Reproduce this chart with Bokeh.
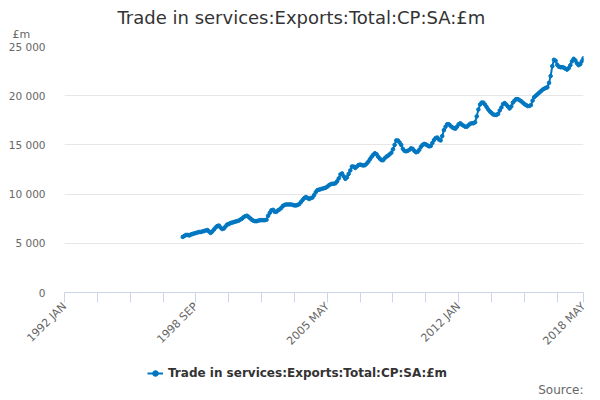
import math
from bokeh.plotting import figure
from bokeh.layouts import column
from bokeh.models import (Range1d, FixedTicker, Label, Legend, LegendItem, Title)
from bokeh.embed import file_html
from bokeh.resources import INLINE

# ---------------- data ----------------
first_data_month = 72          # 1998 JAN, months counted from 1992 JAN
exports = [
    5650, 5750, 5850, 5850, 5800, 5900, 5950, 6000, 6050, 6100, 6150, 6150,
    6200, 6250, 6300, 6350, 6200, 6050, 6200, 6400, 6600, 6750, 6800, 6600,
    6450, 6500, 6700, 6900, 6950, 7050, 7100, 7150, 7200, 7250, 7300, 7400,
    7500, 7650, 7750, 7800, 7700, 7550, 7400, 7300, 7250, 7250, 7300, 7350,
    7350, 7350, 7350, 7400, 7800, 8100, 8350, 8400, 8200, 8200, 8350, 8450,
    8600, 8800, 8900, 8950, 8950, 8950, 8950, 8900, 8850, 8850, 8900, 9000,
    9200, 9400, 9600, 9700, 9600, 9500, 9600, 9650, 9900, 10200, 10400, 10450,
    10500, 10550, 10600, 10650, 10750, 10900, 11000, 11050, 11050, 11100, 11300, 11600,
    12000, 12100, 11800, 11550, 11700, 12050, 12400, 12800, 12800, 12650, 12800, 12950,
    13000, 12950, 12900, 12950, 13100, 13300, 13550, 13800, 14000, 14150, 14050, 13800,
    13600, 13450, 13450, 13650, 13800, 13900, 14050, 14200, 14550, 15000, 15450, 15450,
    15250, 15000, 14600, 14400, 14350, 14400, 14500, 14650, 14600, 14400, 14250, 14300,
    14500, 14800, 15000, 15100, 15050, 14950, 14850, 14900, 15200, 15500, 15700, 15750,
    15550, 15450, 15900, 16500, 16850, 17100, 17100, 16950, 16800, 16700, 16650, 16850,
    17100, 17200, 17050, 16950, 16850, 16850, 17000, 17150, 17200, 17200, 17300, 17900,
    18600, 19100, 19300, 19300, 19100, 18850, 18600, 18400, 18250, 18100, 18050, 18050,
    18150, 18500, 18800, 19150, 19250, 19100, 18900, 18700, 18900, 19300, 19500, 19650,
    19650, 19550, 19450, 19300, 19150, 19050, 18950, 18950, 19050, 19500, 19850, 20000,
    20150, 20300, 20450, 20600, 20700, 20800, 20850, 21300, 22000, 23000, 23650, 23550,
    23150, 22950, 22900, 22900, 22850, 22750, 22650, 22800, 23100, 23500, 23750, 23600,
    23300, 23100, 23200, 23500, 23800,
]
months = list(range(first_data_month, first_data_month + len(exports)))
last_month = 316               # 2018 MAY

x_ticks = list(range(0, 301, 20)) + [last_month]
x_tick_labels = {0: "1992 JAN", 80: "1998 SEP", 160: "2005 MAY",
                 240: "2012 JAN", 316: "2018 MAY"}
y_ticks = [0, 5000, 10000, 15000, 20000, 25000]
y_tick_labels = ["0", "5 000", "10 000", "15 000", "20 000", "25 000"]

title_text = "Trade in services:Exports:Total:CP:SA:£m"
series_name = "Trade in services:Exports:Total:CP:SA:£m"
unit_text = "£m"
source_text = "Source:"

# ---------------- layout constants ----------------
W = 596
MAIN_H = 360
BOT_H = 36
FL, FT = 64, 46
FR = W - 583
FB = MAIN_H - 292
FONT = "DejaVu Sans"
BLUE = "#0077c0"

# ---------------- main chart ----------------
p = figure(width=W, height=MAIN_H, output_backend="svg", toolbar_location=None,
           x_range=Range1d(0, last_month), y_range=Range1d(0, 25000), tools="",
           min_border_left=FL, min_border_right=FR, min_border_top=FT,
           min_border_bottom=FB, title=None)
p.outline_line_color = None

p.line(months, exports, line_color=BLUE, line_width=2)
p.scatter(months, exports, size=3.6, fill_color=BLUE, line_color=BLUE)

p.yaxis.ticker = FixedTicker(ticks=y_ticks)
p.yaxis.major_label_overrides = {t: s for t, s in zip(y_ticks, y_tick_labels)}
p.yaxis.axis_line_color = None
p.yaxis.major_tick_line_color = None
p.yaxis.minor_tick_line_color = None
p.yaxis.major_label_standoff = 13
p.yaxis.major_label_text_font = FONT
p.yaxis.major_label_text_font_size = "10.5px"
p.yaxis.major_label_text_color = "#666666"
p.ygrid.ticker = FixedTicker(ticks=y_ticks)
p.ygrid.grid_line_color = "#e6e6e6"

p.xaxis.ticker = FixedTicker(ticks=x_ticks)
p.xaxis.major_label_overrides = {t: x_tick_labels.get(t, "") for t in x_ticks}
p.xaxis.axis_line_color = "#ccd6eb"
p.xaxis.major_tick_line_color = "#ccd6eb"
p.xaxis.major_tick_out = 10
p.xaxis.major_tick_in = 0
p.xaxis.minor_tick_line_color = None
p.xaxis.major_label_orientation = math.pi / 4
p.xaxis.major_label_standoff = 2
p.xaxis.major_label_text_font = FONT
p.xaxis.major_label_text_font_size = "11px"
p.xaxis.major_label_text_color = "#666666"
p.xgrid.grid_line_color = None

# header texts as title panels (first added sits nearest the plot)
p.add_layout(Title(text=unit_text, align="left", offset=12 - FL, text_font=FONT,
                   text_font_size="11px", text_color="#666666",
                   text_font_style="normal", standoff=12), "above")
p.add_layout(Title(text=title_text, align="left", offset=117 - FL, text_font=FONT,
                   text_font_size="18px", text_color="#333333",
                   text_font_style="normal", standoff=-16), "above")

# ---------------- footer: legend + source ----------------
bot = figure(width=W, height=BOT_H, output_backend="svg", toolbar_location=None,
             x_range=Range1d(0, 1), y_range=Range1d(0, 1), tools="",
             min_border=0, min_border_left=0, min_border_right=0,
             min_border_top=0, min_border_bottom=0)
bot.axis.visible = False
bot.grid.visible = False
bot.outline_line_color = None

# legend proxies: the same series, lying outside this strip's ranges (not drawn)
leg_line = bot.line(months, exports, line_color=BLUE, line_width=2)
leg_dot = bot.scatter(months, exports, size=5, fill_color=BLUE, line_color=BLUE)
legend = Legend(items=[LegendItem(label=series_name, renderers=[leg_line, leg_dot])],
                location=(147 - FL, 16), orientation="horizontal",
                glyph_width=16, glyph_height=14, label_standoff=5,
                label_text_font=FONT, label_text_font_size="12px",
                label_text_font_style="bold", label_text_color="#333333",
                label_height=14, border_line_color=None, background_fill_alpha=0,
                padding=0, margin=0, spacing=0)
bot.add_layout(legend)
bot.add_layout(Label(x=583 - FL, y=BOT_H - 29, x_units="screen", y_units="screen",
                     text=source_text, text_font=FONT, text_font_size="12px",
                     text_color="#666666", text_align="right", text_baseline="middle"))

layout = column(p, bot, spacing=0)
open("out.html", "w").write(file_html(layout, INLINE))
